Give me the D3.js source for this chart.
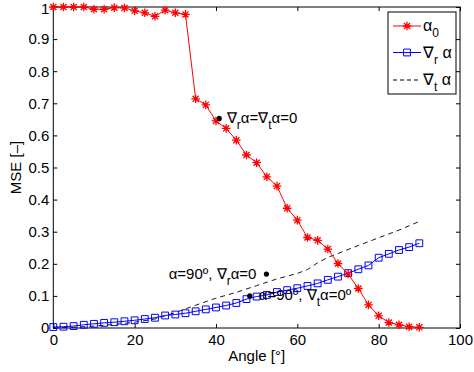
<!DOCTYPE html>
<html>
<head>
<meta charset="utf-8">
<script src="https://cdn.jsdelivr.net/npm/d3@7"></script>
<style>
  body { margin: 0; background: #fff; }
  svg { display: block; }
  text { font-family: "Liberation Sans", Arial, Helvetica, sans-serif; fill: #000; }
</style>
</head>
<body>
<svg id="chart" width="474" height="372"></svg>
<script>
// Angle samples (degrees) shared by the two marked series
const angles = [0, 2.5, 5, 7.5, 10, 12.5, 15, 17.5, 20, 22.5, 25, 27.5, 30, 32.5, 35, 37.5,
  40, 42.5, 45, 47.5, 50, 52.5, 55, 57.5, 60, 62.5, 65, 67.5, 70, 72.5, 75, 77.5,
  80, 82.5, 85, 87.5, 90];

// MSE of alpha_0
const alpha0 = [1.0, 1.0, 1.0, 1.0, 0.993, 0.993, 0.998, 0.997, 0.988, 0.982, 0.971, 0.990,
  0.982, 0.977, 0.714, 0.695, 0.645, 0.622, 0.585, 0.539, 0.515, 0.471, 0.442, 0.373,
  0.336, 0.282, 0.273, 0.246, 0.201, 0.168, 0.123, 0.072, 0.038, 0.017, 0.010, 0.004, 0.002];

// MSE of the radial gradient
const gradR = [0.003, 0.004, 0.006, 0.010, 0.013, 0.016, 0.018, 0.021, 0.024, 0.028, 0.032,
  0.039, 0.042, 0.046, 0.052, 0.058, 0.064, 0.070, 0.078, 0.090, 0.098, 0.103, 0.112,
  0.118, 0.124, 0.131, 0.139, 0.150, 0.160, 0.171, 0.183, 0.195, 0.219, 0.231, 0.243,
  0.252, 0.264];

// MSE of the tangential gradient (dashed)
const gradTAngles = [0, 5, 10, 15, 20, 25, 30, 35, 40, 45, 50, 55, 60, 62.5, 65, 67.5, 70,
  75, 80, 85, 90];
const gradT = [0.0, 0.002, 0.006, 0.011, 0.018, 0.028, 0.048, 0.071, 0.093, 0.111, 0.132,
  0.153, 0.170, 0.182, 0.203, 0.220, 0.232, 0.257, 0.281, 0.305, 0.332];

// Axis ticks
const xTicks = [0, 20, 40, 60, 80, 100];
const xTickLabels = ["0", "20", "40", "60", "80", "100"];
const yTicks = [0, 0.1, 0.2, 0.3, 0.4, 0.5, 0.6, 0.7, 0.8, 0.9, 1];
const yTickLabels = ["0", "0.1", "0.2", "0.3", "0.4", "0.5", "0.6", "0.7", "0.8", "0.9", "1"];

// Annotated points [angle, mse]
const notePoints = [[40.8, 0.653], [52.4, 0.168], [48.3, 0.100]];

const svg = d3.select("#chart");
const plotL = 53.3, plotR = 460, plotT = 7, plotB = 328;

const x = d3.scaleLinear().domain([0, 100]).range([plotL, plotR]);
const y = d3.scaleLinear().domain([0, 1]).range([plotB, plotT]);

const red = "#ff0000", blue = "#0000ff";
const fontSize = 15;

// Axes with inward ticks on all four sides
function styleAxis(g) {
  g.select(".domain").remove();
  g.selectAll(".tick line").attr("stroke", "#000").attr("stroke-width", 1);
  g.selectAll(".tick text").attr("font-size", fontSize).attr("font-family", null).attr("fill", "#000");
}
svg.append("g").attr("transform", `translate(0,${plotB})`)
  .call(d3.axisBottom(x).tickValues(xTicks).tickFormat((d, i) => xTickLabels[i])
    .tickSizeInner(-4).tickSizeOuter(0).tickPadding(6))
  .call(styleAxis);
svg.append("g").attr("transform", `translate(0,${plotT})`)
  .call(d3.axisTop(x).tickValues(xTicks).tickFormat(() => "")
    .tickSizeInner(-4).tickSizeOuter(0))
  .call(styleAxis);
svg.append("g").attr("transform", `translate(${plotL},0)`)
  .call(d3.axisLeft(y).tickValues(yTicks).tickFormat((d, i) => yTickLabels[i])
    .tickSizeInner(-4).tickSizeOuter(0).tickPadding(4))
  .call(styleAxis)
  .call(g => g.selectAll(".tick text").attr("dy", d => d === 1 ? "0.4em" : "0.32em"));
svg.append("g").attr("transform", `translate(${plotR},0)`)
  .call(d3.axisRight(y).tickValues(yTicks).tickFormat(() => "")
    .tickSizeInner(-4).tickSizeOuter(0))
  .call(styleAxis);

// Plot frame
svg.append("rect")
  .attr("x", plotL).attr("y", plotT)
  .attr("width", plotR - plotL).attr("height", plotB - plotT)
  .attr("fill", "none").attr("stroke", "#000").attr("stroke-width", 1);

// Axis titles
svg.append("text")
  .attr("x", (plotL + plotR) / 2).attr("y", 361)
  .attr("text-anchor", "middle").attr("font-size", fontSize)
  .text("Angle [°]");
svg.append("text")
  .attr("transform", `translate(21,${(plotT + plotB) / 2}) rotate(-90)`)
  .attr("text-anchor", "middle").attr("font-size", fontSize)
  .text("MSE [–]");

// Marker shapes
const asterisk = r => {
  const d = r * Math.SQRT1_2;
  return `M0,${-r}V${r}M${-r},0H${r}M${-d},${-d}L${d},${d}M${-d},${d}L${d},${-d}`;
};
const square = s => `M${-s},${-s}H${s}V${s}H${-s}Z`;

const line = d3.line().x(d => x(d[0])).y(d => y(d[1]));

// Tangential gradient (dashed, no markers)
svg.append("path")
  .datum(gradTAngles.map((a, i) => [a, gradT[i]]))
  .attr("d", line).attr("fill", "none")
  .attr("stroke", "#000").attr("stroke-width", 0.9).attr("stroke-dasharray", "5,4");

// Radial gradient (blue squares)
const rData = angles.map((a, i) => [a, gradR[i]]);
svg.append("path").datum(rData).attr("d", line)
  .attr("fill", "none").attr("stroke", blue).attr("stroke-width", 1);
svg.append("g").selectAll("path").data(rData).join("path")
  .attr("transform", d => `translate(${x(d[0])},${y(d[1])})`)
  .attr("d", square(3.4)).attr("fill", "none").attr("stroke", blue).attr("stroke-width", 1);

// alpha_0 (red asterisks)
const aData = angles.map((a, i) => [a, alpha0[i]]);
svg.append("path").datum(aData).attr("d", line)
  .attr("fill", "none").attr("stroke", red).attr("stroke-width", 1);
svg.append("g").selectAll("path").data(aData).join("path")
  .attr("transform", d => `translate(${x(d[0])},${y(d[1])})`)
  .attr("d", asterisk(4.3)).attr("fill", "none").attr("stroke", red).attr("stroke-width", 1.3);

// Text with subscripts: parts are strings, or {sub} objects for lowered pieces
function richText(t, parts, subSize, shift) {
  let lowered = false;
  parts.forEach(p => {
    const ts = t.append("tspan");
    if (typeof p === "object") {
      ts.attr("font-size", subSize).attr("dy", lowered ? 0 : shift).text(p.sub);
      lowered = true;
    } else {
      ts.attr("dy", lowered ? -shift : 0).text(p);
      lowered = false;
    }
  });
}

// Annotations
const notes = svg.append("g").attr("font-size", fontSize);
notes.selectAll("circle").data(notePoints).join("circle")
  .attr("cx", d => x(d[0])).attr("cy", d => y(d[1])).attr("r", 2.6).attr("fill", "#000");

const n1 = notes.append("text")
  .attr("x", x(notePoints[0][0]) + 7.5).attr("y", y(notePoints[0][1]) + 5);
richText(n1, ["∇", {sub: "r"}, "α=∇", {sub: "t"}, "α=0"], 12, 6);

const n2 = notes.append("text")
  .attr("x", x(notePoints[1][0]) - 10).attr("y", y(notePoints[1][1]) + 4.5)
  .attr("text-anchor", "end");
richText(n2, ["α=90º, ∇", {sub: "r"}, "α=0"], 12, 6);

const n3 = notes.append("text")
  .attr("x", x(notePoints[2][0]) + 9).attr("y", y(notePoints[2][1]) + 4.5);
richText(n3, ["α=90º, ∇", {sub: "t"}, "α=0º"], 12, 6);

// Legend
const lg = svg.append("g").attr("font-size", fontSize + 1);
lg.append("rect").attr("x", 388).attr("y", 12).attr("width", 68).attr("height", 82)
  .attr("fill", "#fff").attr("stroke", "#000").attr("stroke-width", 1);
const rows = [
  {yy: 26, color: red, dash: null, marker: asterisk(4.3), parts: ["α", {sub: "0"}]},
  {yy: 52.5, color: blue, dash: null, marker: square(3.4), parts: ["∇", {sub: "r"}, " α"]},
  {yy: 80, color: "#000", dash: "4,3", marker: null, parts: ["∇", {sub: "t"}, " α"]}
];
rows.forEach(r => {
  lg.append("line").attr("x1", 393).attr("x2", 421).attr("y1", r.yy).attr("y2", r.yy)
    .attr("stroke", r.color).attr("stroke-width", 1).attr("stroke-dasharray", r.dash);
  if (r.marker) {
    lg.append("path").attr("transform", `translate(407,${r.yy})`).attr("d", r.marker)
      .attr("fill", "none").attr("stroke", r.color).attr("stroke-width", r.color === red ? 1.3 : 1);
  }
  const t = lg.append("text").attr("x", 423).attr("y", r.yy + 5);
  richText(t, r.parts, 12, 6);
});
</script>
</body>
</html>
